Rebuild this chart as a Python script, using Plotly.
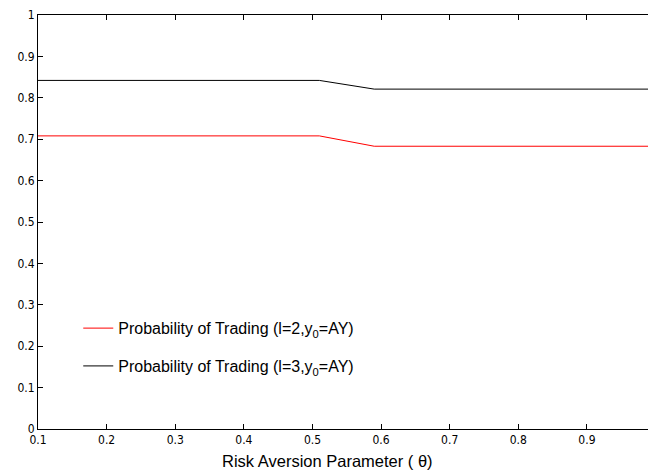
import plotly.graph_objects as go

theta = [0.1, 0.2, 0.3, 0.4, 0.5, 0.51, 0.59, 0.6, 0.7, 0.8, 0.9, 0.99]
prob_l2 = [0.708, 0.708, 0.708, 0.708, 0.708, 0.708, 0.683, 0.683, 0.683, 0.683, 0.683, 0.683]
prob_l3 = [0.842, 0.842, 0.842, 0.842, 0.842, 0.842, 0.821, 0.821, 0.821, 0.821, 0.821, 0.821]
x_ticks = [0.1, 0.2, 0.3, 0.4, 0.5, 0.6, 0.7, 0.8, 0.9]
y_ticks = [0, 0.1, 0.2, 0.3, 0.4, 0.5, 0.6, 0.7, 0.8, 0.9, 1]
x_title = "Risk Aversion Parameter ( θ)"

tick_font = dict(family="DejaVu Sans Condensed, Liberation Sans Narrow, Liberation Sans", size=12, color="#000")
legend_font = dict(family="Liberation Sans, Arial", size=16, color="#000")
title_font = dict(family="Liberation Sans, Arial", size=16.5, color="#000")

fig = go.Figure()
fig.add_trace(go.Scatter(x=theta, y=prob_l2, mode="lines", line=dict(color="#ff0000", width=1),
                         name="Probability of Trading (l=2,y<sub>0</sub>=AY)", legendgroup="a"))
fig.add_trace(go.Scatter(x=theta, y=prob_l3, mode="lines", line=dict(color="#000000", width=1),
                         name="Probability of Trading (l=3,y<sub>0</sub>=AY)", legendgroup="b"))

fig.add_annotation(text=x_title, xref="paper", yref="paper", x=0.474, y=-0.077,
                   xanchor="center", yanchor="middle", showarrow=False, font=title_font)

fig.update_layout(
    width=648, height=474,
    margin=dict(l=38, r=0, t=15, b=45),
    plot_bgcolor="white", paper_bgcolor="white",
    font=legend_font,
    legend=dict(x=0.066, y=0.2845, xanchor="left", yanchor="top", bgcolor="rgba(0,0,0,0)",
                font=legend_font, tracegroupgap=14, traceorder="grouped"),
    xaxis=dict(range=[0.1, 0.989], tickvals=x_ticks, ticktext=[str(v) for v in x_ticks],
               tickfont=tick_font, automargin=False,
               ticks="inside", ticklen=5, tickcolor="#000", showline=True, linecolor="#000",
               linewidth=1, mirror="ticks", showgrid=False, zeroline=False),
    yaxis=dict(range=[0, 1], tickvals=y_ticks, ticktext=[("%g" % v) for v in y_ticks],
               tickfont=tick_font, automargin=False,
               ticks="inside", ticklen=5, tickcolor="#000", showline=True, linecolor="#000",
               linewidth=1, mirror=False, showgrid=False, zeroline=False),
)

fig.write_html("out.html", config={"displayModeBar": False},
               post_script="document.body.style.margin='0';document.body.style.overflow='hidden';")
